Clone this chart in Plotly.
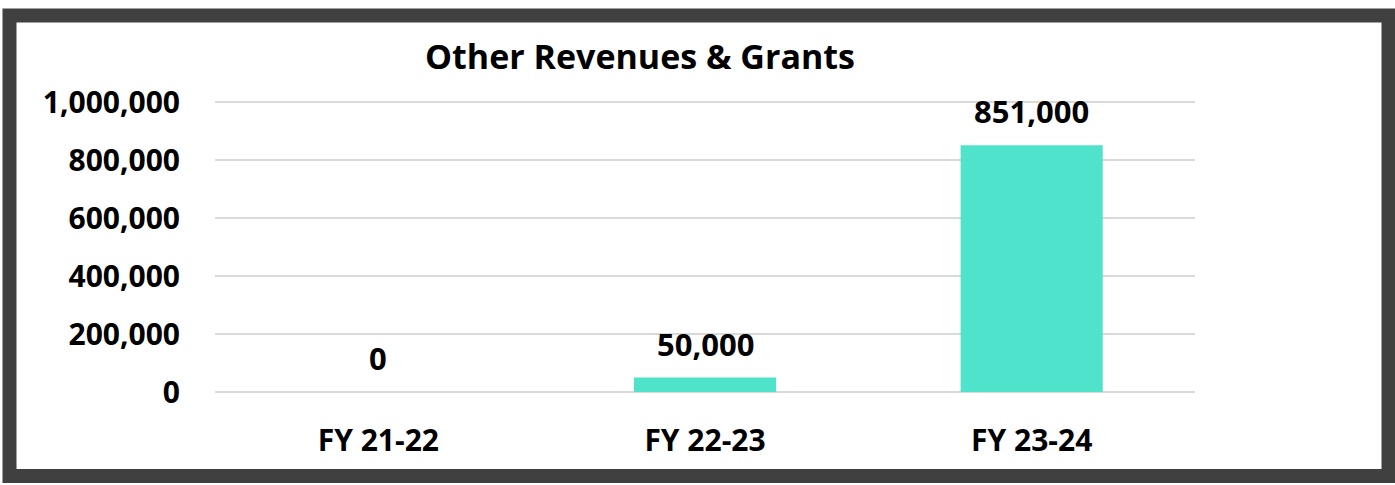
import plotly.graph_objects as go

categories = ["FY 21-22", "FY 22-23", "FY 23-24"]
values = [0, 50000, 851000]
labels = ["0", "50,000", "851,000"]
y_ticks = [0, 200000, 400000, 600000, 800000, 1000000]
y_tick_text = ["0", "200,000", "400,000", "600,000", "800,000", "1,000,000"]

W, H = 1395, 485
L, R, T, B = 215, 200, 101, 93
pw, ph = W - L - R, H - T - B

def px_x(px):
    return (px - L) / pw

def px_y(py):
    return (H - B - py) / ph

FONT = "Open Sans"

fig = go.Figure()
fig.add_trace(go.Bar(
    x=categories, y=values, width=0.435,
    marker=dict(color="#4FE3CC", line=dict(width=0)),
    hoverinfo="skip",
))

for c, v, t in zip(categories, values, labels):
    fig.add_annotation(x=c, y=v, text=t, showarrow=False, yanchor="bottom", yshift=11,
                       font=dict(family=FONT, size=31, color="#000000", weight="bold"))

fig.add_shape(type="rect", xref="paper", yref="paper",
              x0=px_x(9.5), x1=px_x(1388.5), y0=px_y(476), y1=px_y(15.5),
              line=dict(color="#404040", width=14), fillcolor="rgba(0,0,0,0)", layer="above")

fig.update_layout(
    width=W, height=H,
    margin=dict(l=L, r=R, t=T, b=B, pad=0),
    paper_bgcolor="white", plot_bgcolor="white",
    showlegend=False,
    title=dict(text="<b>Other Revenues & Grants</b>", x=640 / W, xanchor="center",
               y=1 - 57 / H, yanchor="middle", xref="container", yref="container",
               font=dict(family=FONT, size=34, color="#000000")),
    xaxis=dict(range=[-0.5, 2.5], showgrid=False, zeroline=False, showline=False,
               ticks="", ticklabelstandoff=28,
               tickfont=dict(family=FONT, size=30, color="#000000", weight="bold")),
    yaxis=dict(range=[0, 1004000], tickvals=y_ticks, ticktext=y_tick_text,
               showgrid=True, gridcolor="#D9D9D9", gridwidth=2,
               zeroline=True, zerolinecolor="#D9D9D9", zerolinewidth=2,
               showline=False, ticks="", ticklabelstandoff=34,
               tickfont=dict(family=FONT, size=30, color="#000000", weight="bold")),
)

fig.write_html("out.html", config={"displayModeBar": False},
               post_script="document.body.style.margin='0';")
